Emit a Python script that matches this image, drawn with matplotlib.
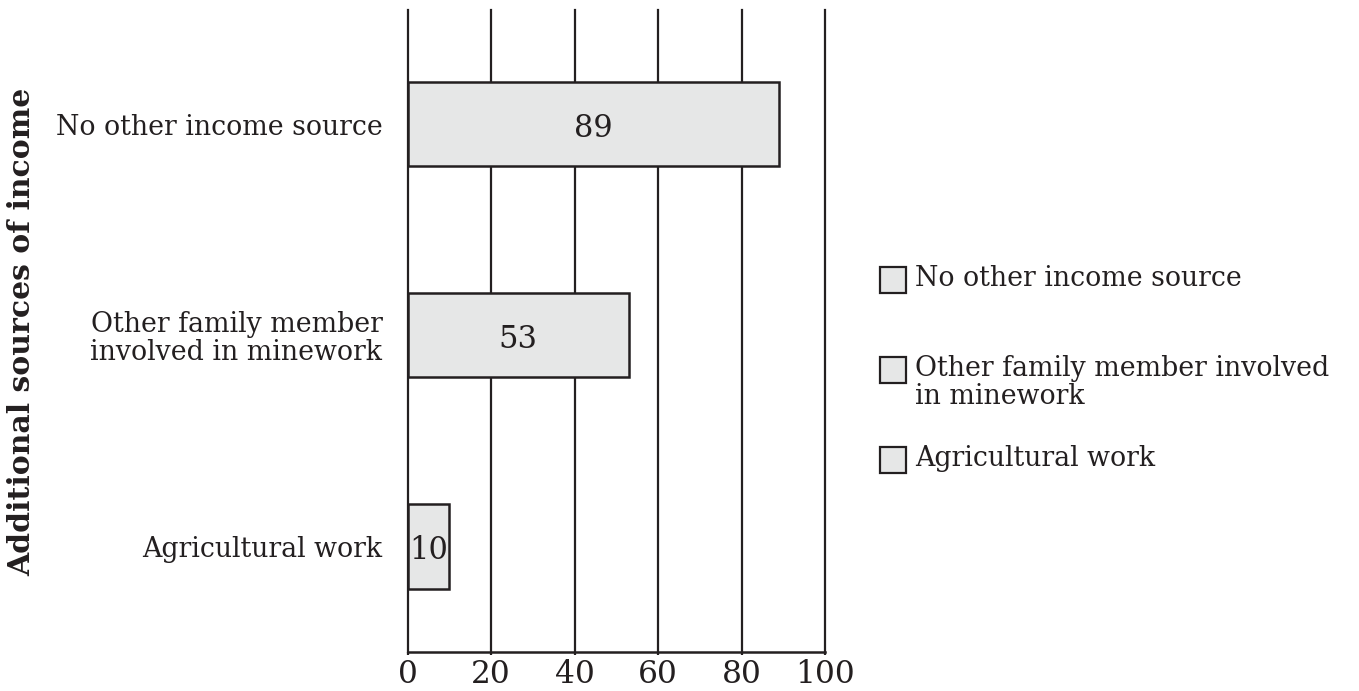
import matplotlib.pyplot as plt
from matplotlib.patches import Rectangle

categories = ["No other income source",
              "Other family member\ninvolved in minework",
              "Agricultural work"]
legend_labels = ["No other income source",
                 "Other family member involved\nin minework",
                 "Agricultural work"]
values = [89, 53, 10]
x_ticks = [0, 20, 40, 60, 80, 100]

ink = "#231f20"
fill = "#e6e7e7"
W, H = 1359, 691

plt.rcParams["font.family"] = "DejaVu Serif"

fig = plt.figure(figsize=(W / 100, H / 100), dpi=100)
ax = fig.add_axes([407.5 / W, 39 / H, 417.5 / W, 642 / H])

bars = ax.barh(range(len(values)), values, height=0.4, color=fill,
               edgecolor=ink, linewidth=1.8, zorder=3)
for b, v in zip(bars, values):
    ax.text(b.get_x() + b.get_width() / 2, b.get_y() + b.get_height() / 2 + 0.02,
            str(v), ha="center", va="center", fontsize=22, color=ink, zorder=4)

ax.set_xlim(0, 100)
ax.set_ylim(2.5, -0.54)
ax.set_xticks(x_ticks)
ax.set_xticklabels([str(t) for t in x_ticks], fontsize=22.5, color=ink)
ax.set_yticks(range(len(categories)))
ax.set_yticklabels(categories, fontsize=19.3, color=ink, linespacing=1.05)
ax.tick_params(axis="y", length=0, pad=18)
ax.tick_params(axis="x", length=2, width=1.6, color=ink, pad=3)

for s in ["top", "right", "left"]:
    ax.spines[s].set_visible(False)
ax.spines["bottom"].set_color(ink)
ax.spines["bottom"].set_linewidth(1.8)

ax.grid(axis="x", color=ink, linewidth=1.6, zorder=1)
ax.set_axisbelow(True)
# keep the 0 and 100 gridlines at full width at the axes edges
for gl in ax.get_xgridlines():
    gl.set_clip_on(False)

fig.text(22 / W, 1 - 332 / H, "Additional sources of income", rotation=90,
         ha="center", va="center", fontsize=21.5, fontweight="bold", color=ink)

# legend: square swatch with the label's first line beside it
for i, lab in enumerate(legend_labels):
    yc = 280 + 90 * i
    fig.patches.append(Rectangle((880 / W, 1 - (yc + 13) / H), 26 / W, 26 / H,
                                 transform=fig.transFigure, facecolor=fill,
                                 edgecolor=ink, linewidth=1.6))
    fig.text(915 / W, 1 - (yc - 15) / H, lab, ha="left", va="top",
             fontsize=19.3, color=ink, linespacing=1.05)

fig.savefig("out.png", dpi=100)
